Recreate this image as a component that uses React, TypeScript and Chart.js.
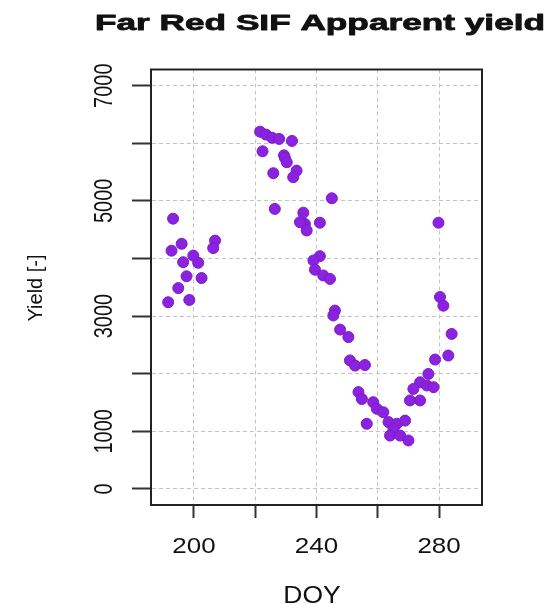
import React, { useEffect, useRef } from "react";
import { Chart, registerables } from "chart.js";

Chart.register(...registerables);

const titleText = "Far Red SIF Apparent yield";
const xTitle = "DOY";
const yTitle = "Yield [-]";

const xTicks = [200, 220, 240, 260, 280];
const xTickLabels = ["200", "", "240", "", "280"];
const yTicks = [0, 1000, 2000, 3000, 4000, 5000, 6000, 7000];
const yTickLabels = ["0", "1000", "", "3000", "", "5000", "", "7000"];

const doy = [
  221.6, 223.5, 225.5, 227.8, 232.0, 222.4, 229.4, 229.7, 230.3, 225.9,
  233.5, 232.4, 245.0, 226.4, 235.7, 193.2, 279.8, 236.2, 234.6, 241.1,
  236.8, 206.9, 206.3, 196.0, 192.7, 199.8, 196.5, 201.4, 197.6, 202.5,
  194.9, 191.6, 198.5, 241.1, 239.0, 239.5, 242.2, 244.4, 280.3, 281.4,
  246.0, 245.5, 247.7, 250.4, 284.1, 250.9, 252.6, 255.8, 283.0, 278.7,
  276.5, 273.8, 276.0, 278.2, 271.6, 270.5, 273.8, 253.7, 254.8, 258.5,
  259.7, 261.8, 256.4, 263.5, 266.2, 268.9, 265.1, 264.0, 267.3, 270.0,
];
const yieldValues = [
  6200, 6150, 6095, 6075, 6040, 5860, 5790, 5745, 5670, 5480,
  5525, 5410, 5045, 4860, 4795, 4690, 4620, 4600, 4630, 4620,
  4485, 4310, 4180, 4255, 4135, 4050, 3935, 3925, 3690, 3660,
  3485, 3240, 3280, 4040, 3965, 3805, 3705, 3645, 3330, 3180,
  3095, 3010, 2765, 2635, 2690, 2230, 2140, 2150, 2315, 2245,
  1995, 1850, 1795, 1765, 1735, 1535, 1535, 1680, 1560, 1505,
  1390, 1330, 1130, 1160, 1130, 1185, 1040, 925, 925, 840,
];

const W = 553;
const H = 604;

function drawText(
  ctx: CanvasRenderingContext2D,
  text: string,
  x: number,
  y: number,
  font: string,
  sx: number,
  rot: number,
  heavy = 0
) {
  ctx.save();
  ctx.font = font;
  ctx.fillStyle = "#111";
  ctx.strokeStyle = "#111";
  ctx.textAlign = "center";
  ctx.textBaseline = "alphabetic";
  ctx.translate(x, y);
  ctx.scale(sx, 1);
  ctx.rotate(rot);
  ctx.fillText(text, 0, 0);
  if (heavy > 0) {
    ctx.lineWidth = heavy;
    ctx.lineJoin = "round";
    ctx.strokeText(text, 0, 0);
  }
  ctx.restore();
}

const decorPlugin = {
  id: "rdecor",
  afterDraw(chart: any) {
    const ctx = chart.ctx as CanvasRenderingContext2D;
    const a = chart.chartArea;
    const xs = chart.scales.x;
    const ys = chart.scales.y;
    // box
    ctx.save();
    ctx.strokeStyle = "#222";
    ctx.lineWidth = 2;
    ctx.strokeRect(a.left, a.top, a.right - a.left, a.bottom - a.top);
    ctx.restore();
    // title, stretched to reference width
    const tFont = "bold 22px 'Liberation Sans'";
    ctx.save();
    ctx.font = tFont;
    const tw = ctx.measureText(titleText).width;
    ctx.restore();
    drawText(ctx, titleText, 320, 29.5, tFont, 450 / tw, 0, 0.8);
    // x tick labels
    xTicks.forEach((v, i) => {
      if (!xTickLabels[i]) return;
      drawText(ctx, xTickLabels[i], xs.getPixelForValue(v), 552.5, "22px 'Liberation Sans'", 1.18, 0);
    });
    // y tick labels (rotated, like R las=0)
    yTicks.forEach((v, i) => {
      if (!yTickLabels[i]) return;
      drawText(ctx, yTickLabels[i], 112, ys.getPixelForValue(v), "20px 'Liberation Sans'", 1.25, -Math.PI / 2);
    });
    // axis titles
    drawText(ctx, xTitle, 312, 602.5, "23px 'Liberation Sans'", 1.15, 0);
    drawText(ctx, yTitle, 42, 288, "20px 'Liberation Sans'", 1, -Math.PI / 2);
  },
};

export default function App() {
  const ref = useRef<HTMLCanvasElement | null>(null);
  useEffect(() => {
    if (!ref.current) return;
    const points = doy.map((d, i) => ({ x: d, y: yieldValues[i] }));
    const chart = new Chart(ref.current, {
      type: "scatter",
      data: {
        datasets: [
          {
            data: points,
            backgroundColor: "#8b22e0",
            borderColor: "#7a1cc8",
            borderWidth: 1,
            pointRadius: 5.5,
            pointHoverRadius: 5.5,
          },
        ],
      },
      options: {
        animation: false,
        responsive: false,
        maintainAspectRatio: false,
        devicePixelRatio: 1,
        events: [],
        layout: { padding: { left: 0, top: 69.5, right: W - 482, bottom: 0 } },
        plugins: {
          legend: { display: false },
          title: { display: false },
          tooltip: { enabled: false },
        },
        scales: {
          x: {
            type: "linear",
            min: 186,
            max: 294,
            afterBuildTicks: (s: any) => {
              s.ticks = xTicks.map((v) => ({ value: v }));
            },
            afterFit: (s: any) => {
              s.height = H - 505;
            },
            ticks: { display: false },
            grid: {
              color: "#c4c4c4",
              lineWidth: 1,
              drawTicks: true,
              tickLength: 13,
              tickColor: "#333",
              tickWidth: 2,
              tickBorderDash: [],
            },
            border: { display: true, color: "#222", width: 2, dash: [4, 3] },
          },
          y: {
            type: "linear",
            min: -280,
            max: 7280,
            afterBuildTicks: (s: any) => {
              s.ticks = yTicks.map((v) => ({ value: v }));
            },
            afterFit: (s: any) => {
              s.width = 151;
            },
            ticks: { display: false },
            grid: {
              color: "#c4c4c4",
              lineWidth: 1,
              drawTicks: true,
              tickLength: 19,
              tickColor: "#333",
              tickWidth: 2,
              tickBorderDash: [],
            },
            border: { display: true, color: "#222", width: 2, dash: [4, 3] },
          },
        },
      },
      plugins: [decorPlugin],
    });
    return () => chart.destroy();
  }, []);
  return (
    <div style={{ position: "fixed", left: 0, top: 0, width: W, height: H, background: "#fff" }}>
      <canvas ref={ref} width={W} height={H} style={{ display: "block", width: W, height: H }} />
    </div>
  );
}
